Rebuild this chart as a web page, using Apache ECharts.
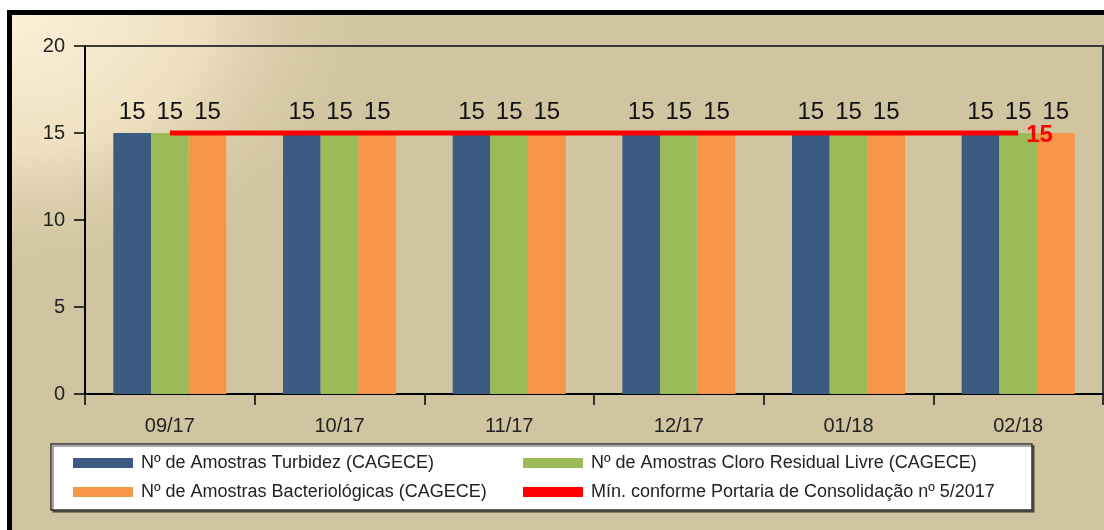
<!DOCTYPE html>
<html>
<head>
    <meta charset="utf-8">
    <title>Amostras CAGECE</title>
    <script src="https://cdn.jsdelivr.net/npm/echarts@6/dist/echarts.min.js"></script>
</head>
<body style="margin:0;background:#fff;">
    <div id="main" style="width:1104px;height:530px;"></div>
    <script type="text/javascript">
        // dados
        var meses = ['09/17', '10/17', '11/17', '12/17', '01/18', '02/18'];
        var turbidez = [15, 15, 15, 15, 15, 15];
        var cloro = [15, 15, 15, 15, 15, 15];
        var bacteriologicas = [15, 15, 15, 15, 15, 15];
        var minimo = [15, 15, 15, 15, 15, 15];
        var yTicks = [0, 5, 10, 15, 20];

        var nomes = [
            'Nº de Amostras Turbidez (CAGECE)',
            'Nº de Amostras Cloro Residual Livre (CAGECE)',
            'Nº de Amostras Bacteriológicas (CAGECE)',
            'Mín. conforme Portaria de Consolidação nº 5/2017'
        ];

        var chart = echarts.init(document.getElementById('main'));
        var fonte = '"Liberation Sans", Arial, sans-serif';

        var barLabel = {
            show: true,
            position: 'top',
            distance: 9,
            color: '#111',
            fontSize: 24,
            fontFamily: fonte
        };

        var option = {
            animation: false,
            textStyle: { fontFamily: fonte },
            graphic: [
                {
                    type: 'rect', z: -100, silent: true,
                    shape: { x: 9.5, y: 12.5, width: 1200, height: 600 },
                    style: { fill: '#d1c4a0', stroke: '#000', lineWidth: 5 }
                },
                {
                    type: 'rect', z: -99, silent: true,
                    x: 12, y: 15, scaleY: 0.72,
                    shape: { x: 0, y: 0, width: 380, height: 380 },
                    style: {
                        fill: {
                            type: 'radial', x: 0, y: 0, r: 1,
                            colorStops: [
                                { offset: 0, color: '#fcf0d8' },
                                { offset: 0.5, color: '#eee0c0' },
                                { offset: 1, color: 'rgba(209,196,160,0)' }
                            ]
                        }
                    }
                },
                {
                    type: 'rect', z: 1, silent: true,
                    shape: { x: 51, y: 444, width: 981, height: 66 },
                    style: {
                        fill: '#fff', stroke: '#333', lineWidth: 1.5,
                        shadowColor: 'rgba(0,0,0,0.45)', shadowOffsetX: 2, shadowOffsetY: 2, shadowBlur: 0
                    }
                }
            ],
            legend: [
                {
                    orient: 'vertical',
                    left: 73, top: 453,
                    padding: 0,
                    itemGap: 9,
                    itemWidth: 60, itemHeight: 10,
                    icon: 'rect',
                    textStyle: { fontSize: 18, color: '#222', lineHeight: 20, padding: [0, 0, 0, 3] },
                    data: [nomes[0], nomes[2]]
                },
                {
                    orient: 'vertical',
                    left: 523, top: 453,
                    padding: 0,
                    itemGap: 9,
                    itemWidth: 60, itemHeight: 10,
                    icon: 'rect',
                    textStyle: { fontSize: 18, color: '#222', lineHeight: 20, padding: [0, 0, 0, 3] },
                    data: [nomes[1], nomes[3]]
                }
            ],
            grid: {
                left: 85, top: 46, right: 1, bottom: 136,
                show: true,
                backgroundColor: 'transparent',
                borderColor: '#3a3a3a',
                borderWidth: 2
            },
            xAxis: {
                type: 'category',
                data: meses,
                axisLine: { lineStyle: { color: '#000', width: 2 } },
                axisTick: { show: true, length: 11, lineStyle: { color: '#000', width: 1.5 } },
                axisLabel: { fontSize: 20, color: '#222', margin: 22 }
            },
            yAxis: {
                type: 'value',
                min: yTicks[0],
                max: yTicks[yTicks.length - 1],
                interval: 5,
                splitLine: { show: false },
                axisLine: { show: true, lineStyle: { color: '#000', width: 2 } },
                axisTick: { show: true, length: 11, lineStyle: { color: '#000', width: 1.5 } },
                axisLabel: { fontSize: 20, color: '#222', margin: 20 }
            },
            series: [
                {
                    name: nomes[0], type: 'bar', data: turbidez,
                    barWidth: '22.2%', barGap: '0%',
                    itemStyle: { color: '#3b5b82' },
                    label: barLabel
                },
                {
                    name: nomes[1], type: 'bar', data: cloro,
                    barWidth: '22.2%', barGap: '0%',
                    itemStyle: { color: '#9bbb59' },
                    label: barLabel
                },
                {
                    name: nomes[2], type: 'bar', data: bacteriologicas,
                    barWidth: '22.2%', barGap: '0%',
                    itemStyle: { color: '#f79646' },
                    label: barLabel
                },
                {
                    name: nomes[3], type: 'line', data: minimo,
                    z: 5,
                    symbol: 'none',
                    itemStyle: { color: '#ff0000' },
                    lineStyle: { color: '#ff0000', width: 5 },
                    endLabel: {
                        show: true,
                        color: '#ff0000',
                        fontWeight: 'bold',
                        fontSize: 24,
                        distance: 8,
                        offset: [0, 2]
                    }
                }
            ]
        };

        chart.setOption(option);
    </script>
</body>
</html>
